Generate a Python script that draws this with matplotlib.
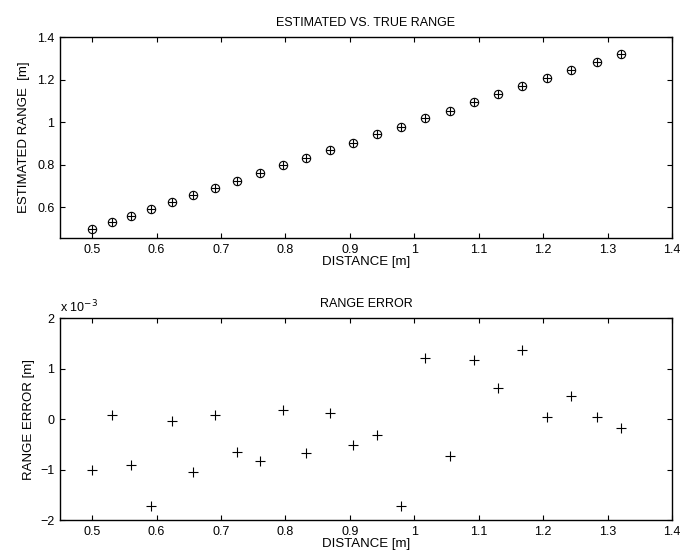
import matplotlib
matplotlib.use("Agg")
import matplotlib.pyplot as plt

plt.rcParams['font.family'] = ['Liberation Sans', 'DejaVu Sans']
plt.rcParams['font.size'] = 9

# distances (true range) [m]
distance = [0.500, 0.530, 0.560, 0.592, 0.624, 0.657, 0.691, 0.725, 0.761, 0.797,
            0.832, 0.869, 0.905, 0.942, 0.980, 1.017, 1.055, 1.092, 1.130, 1.168,
            1.206, 1.244, 1.283, 1.321]
# estimated range [m]
estimated = [0.499, 0.530, 0.559, 0.590, 0.624, 0.656, 0.691, 0.724, 0.760, 0.797,
             0.831, 0.869, 0.904, 0.942, 0.978, 1.018, 1.054, 1.093, 1.131, 1.169,
             1.206, 1.244, 1.283, 1.321]
# range error [x 1e-3 m]
error = [-1.01, 0.07, -0.91, -1.72, -0.04, -1.04, 0.07, -0.66, -0.83, 0.18,
         -0.68, 0.11, -0.52, -0.32, -1.72, 1.21, -0.74, 1.16, 0.62, 1.36,
         0.03, 0.45, 0.03, -0.18]

x_ticks = [0.5, 0.6, 0.7, 0.8, 0.9, 1.0, 1.1, 1.2, 1.3, 1.4]
x_labels = ['0.5', '0.6', '0.7', '0.8', '0.9', '1', '1.1', '1.2', '1.3', '1.4']

fig = plt.figure(figsize=(6.83, 5.58), dpi=100)
ax1 = fig.add_axes([0.0878, 0.5735, 0.896, 0.360])
ax2 = fig.add_axes([0.0878, 0.0681, 0.896, 0.362])


def style(ax):
    ax.set_xlim(0.45, 1.4)
    ax.set_xticks(x_ticks)
    ax.set_xticklabels(x_labels)
    ax.tick_params(direction='in', length=3.6, width=0.8, top=True, right=True,
                   pad=4, labelsize=9)
    for s in ax.spines.values():
        s.set_linewidth(1.0)
    ax.set_xlabel('DISTANCE [m]', fontsize=9.5, labelpad=0)


# top panel
ax1.plot(distance, estimated, 'o', ms=6, mfc='none', mec='black', mew=0.8)
ax1.plot(distance, estimated, '+', ms=6, color='black', mew=0.8)
style(ax1)
ax1.set_ylim(0.455, 1.4)
ax1.set_yticks([0.6, 0.8, 1.0, 1.2, 1.4])
ax1.set_yticklabels(['0.6', '0.8', '1', '1.2', '1.4'])
ax1.set_ylabel('ESTIMATED RANGE  [m]', fontsize=9.5, labelpad=5)
ax1.set_title('ESTIMATED VS. TRUE RANGE', fontsize=9, pad=8)

# bottom panel
ax2.plot(distance, error, '+', ms=7, color='black', mew=0.8)
style(ax2)
ax2.set_ylim(-2, 2)
ax2.set_yticks([-2, -1, 0, 1, 2])
ax2.set_yticklabels(['\u22122', '\u22121', '0', '1', '2'])
ax2.set_ylabel('RANGE ERROR [m]', fontsize=9.5, labelpad=4)
ax2.set_title('RANGE ERROR', fontsize=9, pad=8)
ax2.text(0.0, 1.015, r'x 10$^{-3}$', transform=ax2.transAxes, fontsize=9,
         ha='left', va='bottom')

fig.savefig('out.png', dpi=100)
